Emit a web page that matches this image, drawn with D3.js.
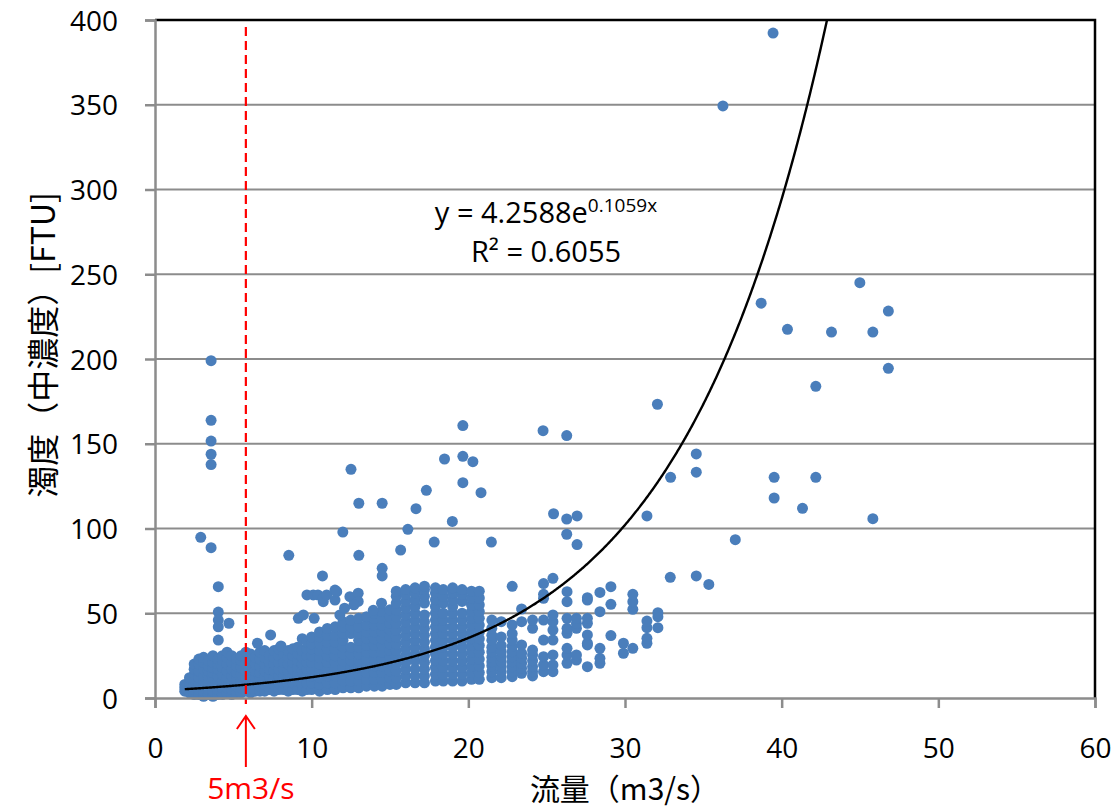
<!DOCTYPE html>
<html><head><meta charset="utf-8">
<script src="https://cdn.jsdelivr.net/npm/d3@7"></script>
<style>body{margin:0;background:#fff}</style>
</head><body>
<svg id="chart" width="1113" height="812"></svg>
<script>
// ---- data ----
const xTicks = [0, 10, 20, 30, 40, 50, 60];
const yTicks = [0, 50, 100, 150, 200, 250, 300, 350, 400];

// dense cluster: flow column -> turbidity values
const clusterFlow = [1.9,2.2,2.5,2.8,3.1,3.4,3.7,4.0,4.3,4.6,4.9,5.2,5.5,5.8,6.1,6.4,6.7,7.0,7.3,7.6,7.9,8.2,8.5,8.8,9.1,9.4,9.7,
  10.0,10.5,11.0,11.5,12.0,12.5,13.0,13.5,14.0,14.5,15.0,15.4,16.0,16.6,17.2,17.9,18.4,19.0,19.6,20.2,20.7,
  21.5,22.1,22.8,23.4,24.1,24.8,25.4,26.3,26.9,27.6,28.4,29.1,29.9,30.5,31.4,32.1];
const clusterTurbidity = [
  [4,6,8],[3,6,9,12],[2,5,8,11,14,17,20],[2,5,8,12,16,20,23],[1,4,7,10,13,17,21,24],[2,5,9,13,16,19,22],
  [1,4,8,12,15,18,21,25],[2,5,9,13,17,20,23],[2,6,10,14,18,22,25],[3,6,9,12,16,20,24,27],[2,5,9,13,17,21,25],
  [3,7,11,15,19,23],[3,6,10,14,18,22,25],[4,8,12,16,20,24,27],[3,7,11,15,19,23,26],[4,8,12,16,20,24],
  [4,7,11,15,19,23,27],[4,8,12,16,20,24,28],[5,9,13,17,21,25],[4,8,12,16,20,24,28],[5,9,13,17,21,25,29],
  [5,9,13,17,21,26],[4,8,12,16,20,24,28],[5,9,13,17,21,25,29],[5,10,14,18,22,26,30],[4,8,12,16,20,24,28,35],
  [5,9,13,17,21,25,29,33],
  [5,9,13,17,21,25,29,32,36],[4,8,12,16,20,24,28,32,36,39],[5,9,13,17,21,25,29,33,37,41],
  [5,9,13,17,21,25,29,33,37,42],[6,10,14,18,22,26,30,34,38,42,45],[6,10,14,18,22,26,30,38,42,46],
  [6,10,14,18,22,26,30,34,38,42,47],[7,11,15,19,23,27,31,35,39,43,48],[7,11,15,19,23,27,31,35,39,43,47,50],
  [7,11,15,19,23,27,31,35,39,43,47,51],[8,12,16,20,24,28,32,36,40,44,48,52],
  [8,12,16,20,24,28,32,36,40,44,48,52,56,60,63],[9,13,17,21,25,29,33,37,41,45,49,53,57,61,64],
  [9,13,17,22,26,30,34,38,42,46,50,54,58,62,65],[9,13,17,21,25,29,33,37,41,45,49,56,60,64,66],
  [10,14,18,22,26,30,34,38,42,46,50,54,58,62,65],[10,14,18,22,26,30,34,38,42,46,50,56,60,64],
  [10,14,18,22,26,30,34,38,42,46,50,54,58,62,65],[10,14,18,22,26,30,34,38,42,46,50,57,61,64],
  [11,15,19,23,27,31,35,39,43,47,51,55,59,63],[11,15,19,23,27,31,35,39,43,47,51,55,59,63],
  [12,15.5,19,21.4,24,27.3,30,34,37,41.1,46],[12,15.5,18.5,21.4,24.4,27.3,31,36,45],
  [12.6,15.5,18.5,21.4,24.4,27.3,30.5,34.2,38,43.1,65.9],[14.6,17.5,20.5,23.5,26.4,31.3,45,52.5],
  [13,15.5,18.5,22,25.4,28.3,41.1,46],[15.5,19.5,24.4,34.2,46,58.8,61.2,67.5],
  [15.5,19.5,25.4,34.2,40.1,45,49,70.6],[20.5,25.4,29.3,38.2,41.1,47,56.8,62.7],
  [22.4,25.4,41.1,44,47],[18.5,31.3,32.3,37.2,44.1,47,57.8,59.2],[20.5,23.4,29.3,50.9,62.3],
  [36.8,55.3,65.7],[26.4,32.3],[29.3,52.3,56.8,61.2],[32.3,35.2,41.5,45.4],[41.5,48,50.3]
];

// scattered points
const sparseFlow = [4.04,4.04,4.04,4.04,4.04,4.72,6.54,7.38,8.04,9.15,9.47,9.7,10.1,10.4,10.16,10.74,10.74,10.96,11.49,11.49,11.6,11.8,12.1,12.44,12.97,12.97,12.7,13.93,14.46,
  3.58,3.58,3.58,3.58,3.58,2.92,3.58,8.54,10.69,11.99,12.51,13.01,13.01,14.5,14.5,14.5,15.68,16.14,16.66,17.32,17.82,18.48,18.98,19.65,19.65,19.65,20.29,20.81,21.47,
  24.77,26.28,25.44,26.28,26.94,26.28,26.94,32.07,32.91,34.55,34.55,31.4,
  38.69,40.37,43.18,45.82,44.99,46.81,46.81,42.18,39.52,42.18,39.52,41.33,45.82,37.04,32.89,34.55,35.35,39.45,36.25];
const sparseTurbidity = [65.7,50.7,46,42,34.2,44.1,32.3,37.2,30.7,47,49,60.8,60.8,60.8,47,56.8,59,60.8,63.7,57.8,62.7,49,53,59.8,61.8,57,55,51.7,55.9,
  199,163.8,151.6,143.8,137.7,94.8,88.7,84.2,72,97.9,134.9,114.9,84.2,114.9,76.5,72,87.3,99.5,111.7,122.5,92,141,104.2,160.7,142.6,127,139.4,121.1,92,
  157.7,154.8,108.7,105.6,107.4,96.6,90.5,173.3,130.2,144,133.2,107.4,
  232.9,217.5,215.9,215.9,245,228.3,194.5,183.9,130.2,130.2,118,111.9,105.8,93.4,71.2,72,67,392.3,349.3];

// exponential trendline y = a * e^(b x)
const trendCoef = [4.2588, 0.1059];
const trendRange = [1.9, 43.2];
const thresholdFlow = 5.8;

// ---- drawing ----
const svg = d3.select("#chart");
const L = 155, R = 1095, T = 20, B = 698;
const x = d3.scaleLinear().domain([0, 60]).range([L, R]);
const y = d3.scaleLinear().domain([0, 400]).range([B, T]);
const numFont = "'Open Sans', 'Liberation Sans', sans-serif";
const cjkFont = "'Noto Sans CJK JP', 'Noto Sans', sans-serif";

svg.append("defs").append("clipPath").attr("id", "plotclip")
  .append("rect").attr("x", L).attr("y", T).attr("width", R - L).attr("height", B - T);

// gridlines
svg.append("g").selectAll("line").data(yTicks.filter(d => d > 0 && d < 400)).join("line")
  .attr("x1", L).attr("x2", R).attr("y1", d => y(d)).attr("y2", d => y(d))
  .attr("stroke", "#8c8c8c").attr("stroke-width", 2);

// points
const pts = [];
clusterFlow.forEach((fx, i) => clusterTurbidity[i].forEach(v => pts.push([fx, v])));
sparseFlow.forEach((fx, i) => pts.push([fx, sparseTurbidity[i]]));
svg.append("g").selectAll("circle").data(pts).join("circle")
  .attr("cx", d => x(d[0])).attr("cy", d => y(d[1])).attr("r", 5.5)
  .attr("fill", "#4a7ebb");

// trendline
const trendX = d3.range(trendRange[0], trendRange[1], 0.05);
const line = d3.line().x(d => x(d)).y(d => y(trendCoef[0] * Math.exp(trendCoef[1] * d)));
svg.append("path").datum(trendX).attr("d", line).attr("clip-path", "url(#plotclip)")
  .attr("fill", "none").attr("stroke", "#000").attr("stroke-width", 2.4);

// threshold dashed line
svg.append("line").attr("x1", x(thresholdFlow)).attr("x2", x(thresholdFlow))
  .attr("y1", 27).attr("y2", 704).attr("stroke", "#ff0000").attr("stroke-width", 2.2)
  .attr("stroke-dasharray", "9,5");

// plot border (top/right black)
svg.append("path").attr("d", `M${L},${T}H${R}V${B}`).attr("fill", "none")
  .attr("stroke", "#000").attr("stroke-width", 2.5);

// axes
const yAxis = d3.axisLeft(y).tickValues(yTicks).tickSize(10).tickPadding(27);
const gy = svg.append("g").attr("transform", `translate(${L},0)`).call(yAxis);
const xAxis = d3.axisBottom(x).tickValues(xTicks).tickSize(10).tickPadding(30);
const gx = svg.append("g").attr("transform", `translate(0,${B})`).call(xAxis);
[gx, gy].forEach(g => {
  g.select(".domain").attr("stroke", "#8c8c8c").attr("stroke-width", 2.5);
  g.selectAll(".tick line").attr("stroke", "#8c8c8c").attr("stroke-width", 2.5);
  g.selectAll(".tick text").attr("font-family", numFont).attr("font-size", 28).attr("fill", "#000");
});
gy.selectAll(".tick text").attr("dy", "0.36em");

// axis titles
svg.append("text").attr("transform", `translate(55,345) rotate(-90)`)
  .attr("text-anchor", "middle").attr("font-family", cjkFont).attr("font-size", 32)
  .text("濁度（中濃度）[FTU]");
svg.append("text").attr("x", 625).attr("y", 800).attr("text-anchor", "middle")
  .attr("font-family", cjkFont).attr("font-size", 30).text("流量（m3/s）");

// equation
const eq = svg.append("text").attr("x", 546).attr("y", 223).attr("text-anchor", "middle")
  .attr("font-family", numFont).attr("font-size", 29);
eq.append("tspan").text(`y = ${trendCoef[0]}e`);
eq.append("tspan").attr("dy", -11).attr("font-size", 19).text(`${trendCoef[1]}x`);
svg.append("text").attr("x", 546).attr("y", 262).attr("text-anchor", "middle")
  .attr("font-family", numFont).attr("font-size", 29).text("R² = 0.6055");

// threshold annotation arrow
const ax = x(thresholdFlow);
svg.append("path").attr("d", `M${ax},767V716M${ax - 9},729L${ax},716L${ax + 9},729`)
  .attr("fill", "none").attr("stroke", "#ff0000").attr("stroke-width", 2);
svg.append("text").attr("x", ax + 5).attr("y", 799).attr("text-anchor", "middle")
  .attr("font-family", numFont).attr("font-size", 30).attr("fill", "#ff0000").text("5m3/s");
</script>
</body></html>
